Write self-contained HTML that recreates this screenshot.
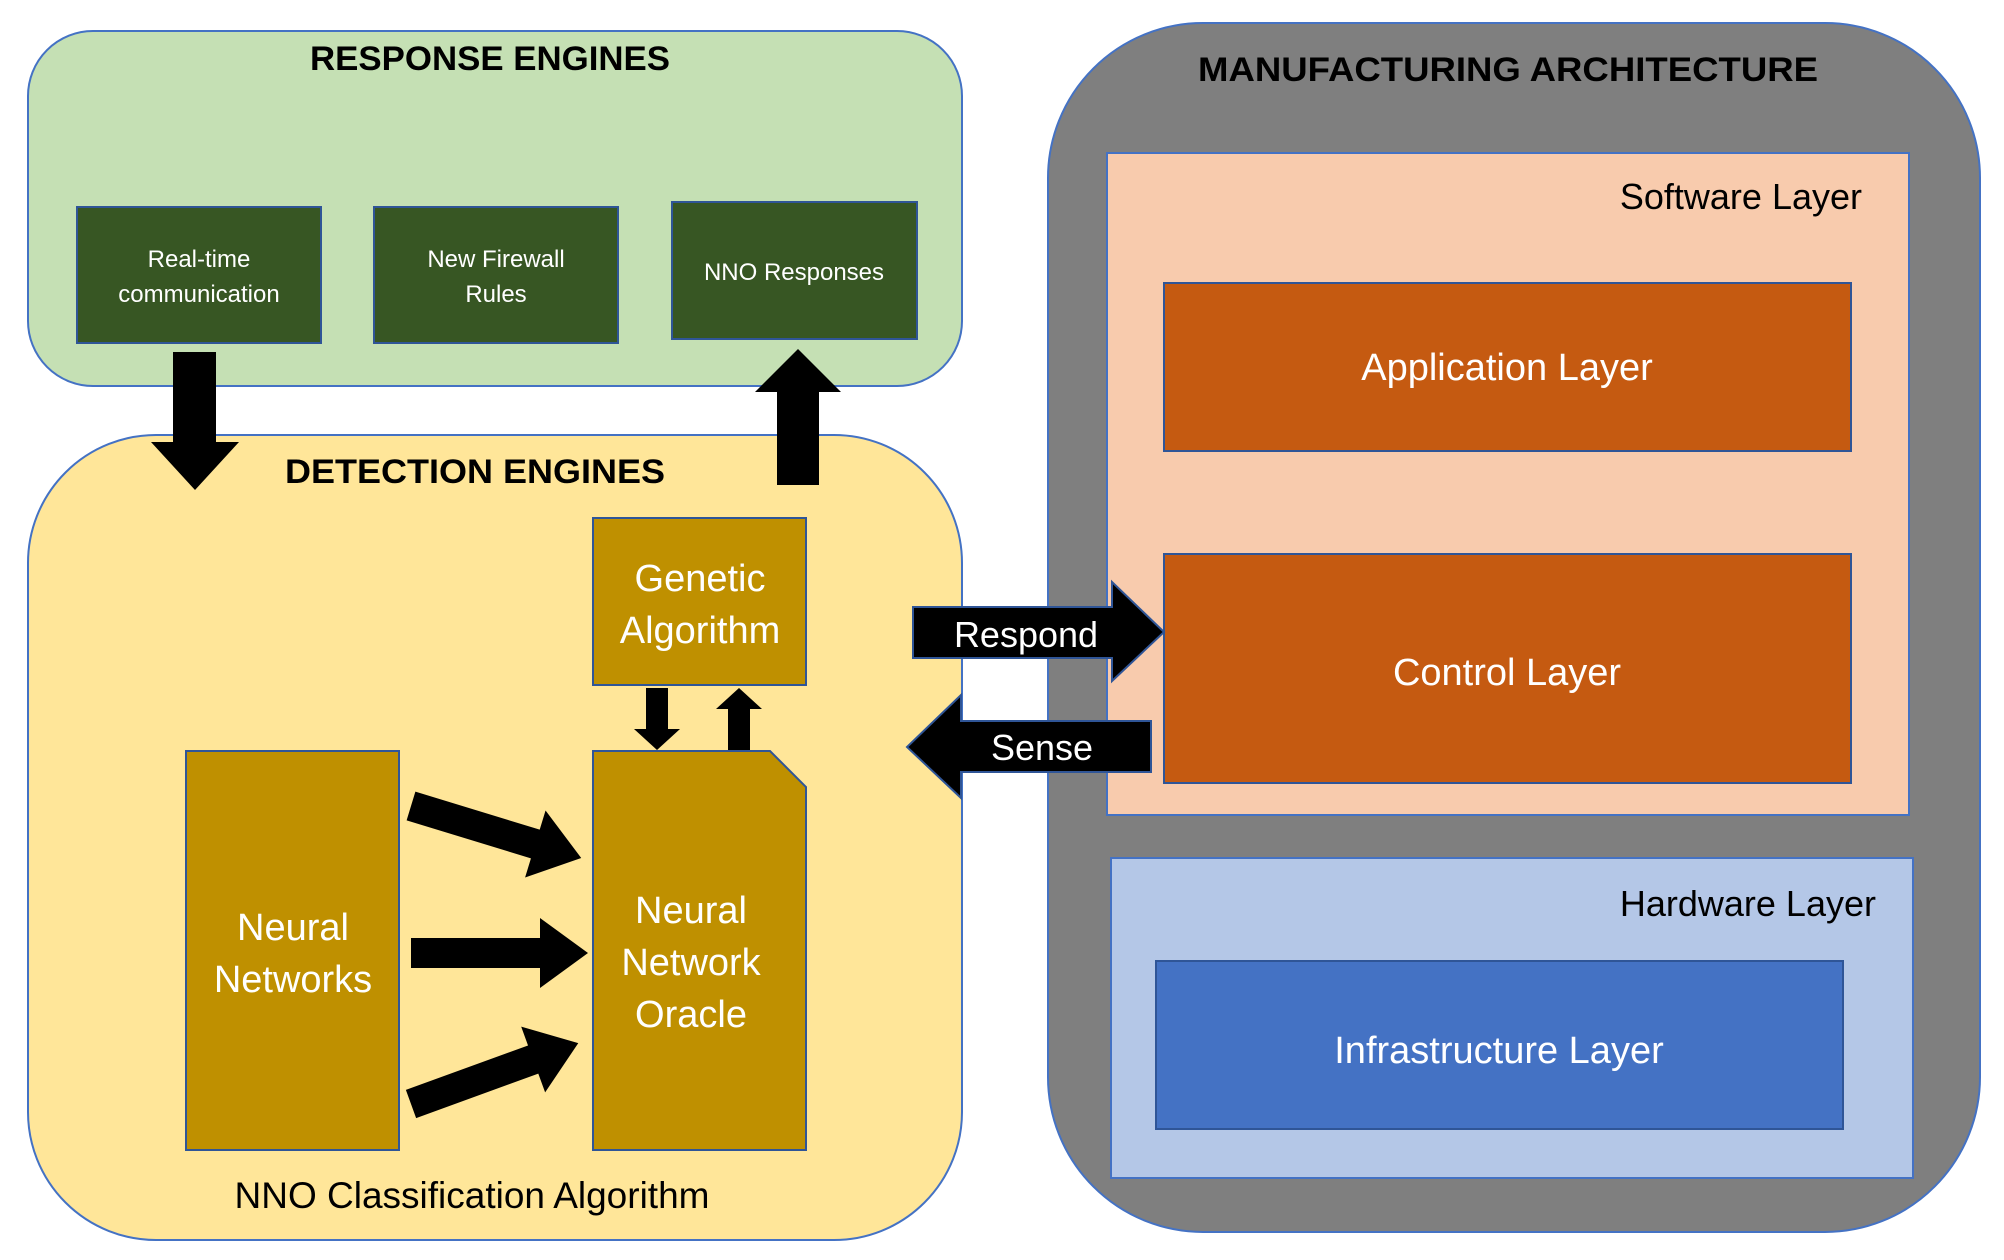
<!DOCTYPE html>
<html><head><meta charset="utf-8"><style>
html,body{margin:0;padding:0;background:#fff;}
svg{display:block;font-family:"Liberation Sans",sans-serif;}
</style></head><body>
<svg width="2004" height="1260" viewBox="0 0 2004 1260" xmlns="http://www.w3.org/2000/svg">
<rect x="28" y="31" width="934" height="355" rx="65" fill="#C5E0B4" stroke="#4472C4" stroke-width="2"/>
<text x="490" y="70" font-size="34" font-weight="bold" text-anchor="middle" textLength="360" lengthAdjust="spacingAndGlyphs">RESPONSE ENGINES</text>
<g fill="#375623" stroke="#2F5597" stroke-width="2">
<rect x="77" y="207" width="244" height="136"/>
<rect x="374" y="207" width="244" height="136"/>
<rect x="672" y="202" width="245" height="137"/>
</g>
<g fill="#fff" font-size="24" text-anchor="middle">
<text x="199" y="267">Real-time</text>
<text x="199" y="302">communication</text>
<text x="496" y="267">New Firewall</text>
<text x="496" y="302">Rules</text>
<text x="794" y="280">NNO Responses</text>
</g>
<rect x="28" y="435" width="934" height="805" rx="128" fill="#FFE699" stroke="#4472C4" stroke-width="2"/>
<text x="475" y="483" font-size="34" font-weight="bold" text-anchor="middle" textLength="380" lengthAdjust="spacingAndGlyphs">DETECTION ENGINES</text>
<polygon points="173,352 216,352 216,442 239,442 195,490 151,442 173,442" fill="#000"/>
<polygon points="777,485 819,485 819,392 841,392 798,349 755,392 777,392" fill="#000"/>
<rect x="593" y="518" width="213" height="167" fill="#BF9000" stroke="#2F5597" stroke-width="2"/>
<text x="700" y="591" font-size="38" fill="#fff" text-anchor="middle">Genetic</text>
<text x="700" y="643" font-size="38" fill="#fff" text-anchor="middle">Algorithm</text>
<polygon points="593,751 770,751 806,787 806,1150 593,1150" fill="#BF9000" stroke="#2F5597" stroke-width="2"/>
<text x="691" y="923" font-size="38" fill="#fff" text-anchor="middle">Neural</text>
<text x="691" y="975" font-size="38" fill="#fff" text-anchor="middle">Network</text>
<text x="691" y="1027" font-size="38" fill="#fff" text-anchor="middle">Oracle</text>
<rect x="186" y="751" width="213" height="399" fill="#BF9000" stroke="#2F5597" stroke-width="2"/>
<text x="293" y="940" font-size="38" fill="#fff" text-anchor="middle">Neural</text>
<text x="293" y="992" font-size="38" fill="#fff" text-anchor="middle">Networks</text>
<polygon points="646,688 668,688 668,729 680,729 657,750 634,729 646,729" fill="#000"/>
<polygon points="728,750 750,750 750,709 762,709 739,688 716,709 728,709" fill="#000"/>
<polygon points="411,938 540,938 540,918 588,953 540,988 540,968 411,968" fill="#000"/>
<g transform="translate(411,806) rotate(17)">
<polygon points="0,-15 130,-15 130,-35 178,0 130,35 130,15 0,15" fill="#000"/>
</g>
<g transform="translate(411,1104) rotate(-20)">
<polygon points="0,-15 130,-15 130,-35 178,0 130,35 130,15 0,15" fill="#000"/>
</g>
<text x="472" y="1208" font-size="37" text-anchor="middle">NNO Classification Algorithm</text>
<rect x="1048" y="23" width="932" height="1209" rx="155" fill="#7F7F7F" stroke="#4472C4" stroke-width="2"/>
<text x="1508" y="81" font-size="34" font-weight="bold" text-anchor="middle" textLength="620" lengthAdjust="spacingAndGlyphs">MANUFACTURING ARCHITECTURE</text>
<rect x="1107" y="153" width="802" height="662" fill="#F8CBAD" stroke="#4472C4" stroke-width="2"/>
<text x="1862" y="209" font-size="36" text-anchor="end">Software Layer</text>
<rect x="1164" y="283" width="687" height="168" fill="#C55A11" stroke="#2F5597" stroke-width="2"/>
<text x="1507" y="380" font-size="38" fill="#fff" text-anchor="middle">Application Layer</text>
<rect x="1164" y="554" width="687" height="229" fill="#C55A11" stroke="#2F5597" stroke-width="2"/>
<text x="1507" y="685" font-size="38" fill="#fff" text-anchor="middle">Control Layer</text>
<rect x="1111" y="858" width="802" height="320" fill="#B4C7E7" stroke="#4472C4" stroke-width="2"/>
<text x="1876" y="916" font-size="36" text-anchor="end">Hardware Layer</text>
<rect x="1156" y="961" width="687" height="168" fill="#4472C4" stroke="#2F5597" stroke-width="2"/>
<text x="1499" y="1063" font-size="38" fill="#fff" text-anchor="middle">Infrastructure Layer</text>
<polygon points="913,607 1112,607 1112,582 1164,632 1112,681 1112,658 913,658" fill="#000" stroke="#2F5597" stroke-width="2"/>
<text x="1026" y="647" font-size="36" fill="#fff" text-anchor="middle">Respond</text>
<polygon points="1151,721 961,721 961,695 907,747 961,798 961,772 1151,772" fill="#000" stroke="#2F5597" stroke-width="2"/>
<text x="1042" y="760" font-size="36" fill="#fff" text-anchor="middle">Sense</text>
</svg>
</body></html>
